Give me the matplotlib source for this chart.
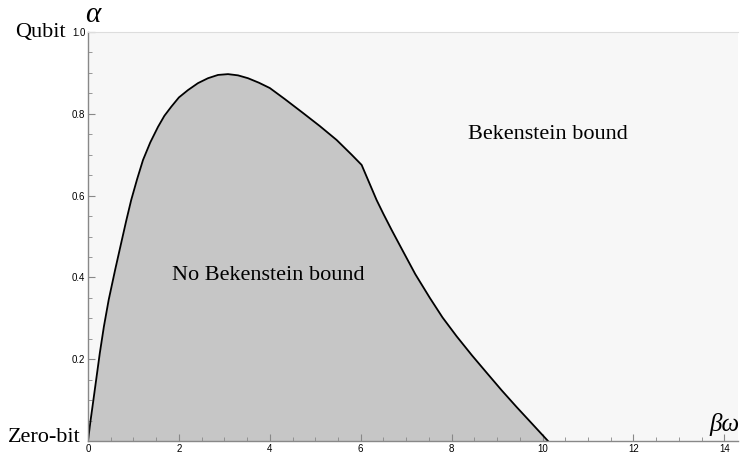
"""Diagrama de fase: região com e sem cota de Bekenstein em função de βω."""

import matplotlib.pyplot as plt
from matplotlib.ticker import MultipleLocator

# Fronteira (βω, α)
beta_omega = [0.0, 0.05, 0.10, 0.18, 0.26, 0.35, 0.455, 0.6, 0.73, 0.84,
              0.95, 1.08, 1.21, 1.37, 1.54, 1.68, 1.83, 2.0, 2.2, 2.42,
              2.64, 2.86, 3.08, 3.3, 3.52, 3.76, 4.0, 4.33, 4.73, 5.1,
              5.47, 5.8, 6.02, 6.35, 6.5, 6.68, 6.92, 7.2, 7.52, 7.8,
              8.11, 8.45, 8.77, 9.1, 9.43, 9.78, 10.12]
alpha = [0.0, 0.045, 0.085, 0.15, 0.215, 0.28, 0.345, 0.42, 0.484, 0.538,
         0.589, 0.64, 0.687, 0.73, 0.768, 0.795, 0.817, 0.84, 0.858, 0.875,
         0.887, 0.895, 0.897, 0.894, 0.887, 0.876, 0.863, 0.836, 0.802, 0.770,
         0.736, 0.70, 0.675, 0.589, 0.555, 0.516, 0.466, 0.408, 0.35, 0.302,
         0.256, 0.209, 0.167, 0.124, 0.083, 0.041, 0.0]

x_ticks = [0, 2, 4, 6, 8, 10, 12, 14]
y_ticks = [0.2, 0.4, 0.6, 0.8, 1.0]

SERIF = "Liberation Serif"
SANS = "Liberation Sans"

fig = plt.figure(figsize=(7.45, 4.54), dpi=100)
ax = fig.add_axes([88 / 745, 13 / 454, 650 / 745, 409 / 454])
ax.set_facecolor("#f7f7f7")

ax.fill_between(beta_omega, alpha, 0, color="#c6c6c6", linewidth=0)
ax.plot(beta_omega, alpha, color="black", linewidth=1.3,
        solid_joinstyle="round")

ax.set_xlim(0, 14.3)
ax.set_ylim(0, 1.0)

ax.set_xticks(x_ticks)
ax.set_yticks(y_ticks)
ax.set_xticklabels([str(t) for t in x_ticks], fontfamily=SANS, fontsize=7)
ax.set_yticklabels([f"{t:.1f}" for t in y_ticks], fontfamily=SANS, fontsize=7)
ax.xaxis.set_minor_locator(MultipleLocator(0.5))
ax.yaxis.set_minor_locator(MultipleLocator(0.05))
ax.tick_params(which="major", direction="in", length=5, width=0.8,
               color="#888888", pad=2)
ax.tick_params(which="minor", direction="in", length=3, width=0.6,
               color="#888888")

for side in ("left", "bottom"):
    ax.spines[side].set_color("#888888")
    ax.spines[side].set_linewidth(1.0)
ax.spines["top"].set_color("#dddddd")
ax.spines["top"].set_linewidth(0.8)
ax.spines["right"].set_visible(False)

# Rótulos dos eixos e das regiões
ax.text(0.1, 1.0245, "α", fontfamily=SERIF, fontstyle="italic", fontsize=21,
        ha="center", va="baseline", clip_on=False)
ax.text(14.0, 0.04, "βω", fontfamily=SERIF, fontstyle="italic", fontsize=18,
        ha="center", va="center", clip_on=False)
fig.text(66 / 745, 1 - 33 / 454, "Qubit", fontfamily=SERIF, fontsize=16,
         ha="right", va="center")
fig.text(81 / 745, 1 - 438 / 454, "Zero-bit", fontfamily=SERIF, fontsize=16,
         ha="right", va="center")
ax.text(10.11, 0.75, "Bekenstein bound", fontfamily=SERIF, fontsize=16,
        ha="center", va="center")
ax.text(3.96, 0.405, "No Bekenstein bound", fontfamily=SERIF, fontsize=16,
        ha="center", va="center")

fig.savefig("out.png", dpi=100)
